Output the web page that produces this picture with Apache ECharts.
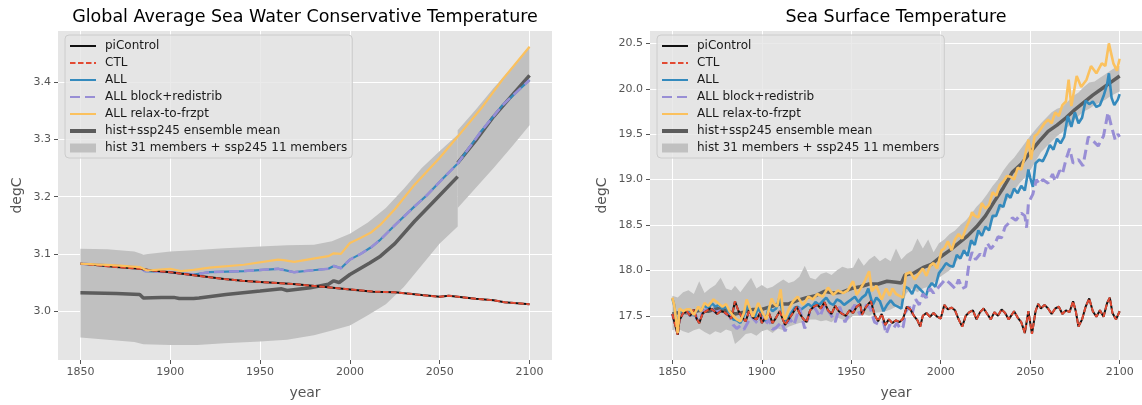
<!DOCTYPE html>
<html>
<head>
<meta charset="utf-8">
<script src="https://cdn.jsdelivr.net/npm/echarts@6/dist/echarts.min.js"></script>
<style>
  html, body { margin: 0; padding: 0; background: #fff; }
  #chart { width: 1142px; height: 405px; }
</style>
</head>
<body>
<div id="chart"></div>
<script>
// ---------- left panel: global average sea water conservative temperature ----------
const globPiControl = [[1850,3.083],[1860,3.080],[1870,3.077],[1883,3.074],[1890,3.071],[1900,3.068],[1910,3.064],
  [1920,3.060],[1930,3.056],[1940,3.053],[1950,3.051],[1960,3.049],[1970,3.047],[1985,3.0425],[2000,3.038],
  [2013,3.034],[2025,3.033],[2040,3.028],[2050,3.025],[2055,3.027],[2070,3.0215],[2080,3.019],[2086,3.0157],[2100,3.012]];
const globCtl = globPiControl; // CTL sits exactly on piControl
const globAll = [[1850,3.083],[1870,3.079],[1883,3.076],[1886,3.070],[1900,3.068],[1906,3.066],[1913,3.064],
  [1922,3.068],[1941,3.070],[1960,3.074],[1963,3.072],[1969,3.068],[1978,3.071],[1988,3.074],[1991,3.079],
  [1995,3.075],[2000,3.090],[2006,3.100],[2012,3.112],[2017,3.125],[2025,3.150],[2036,3.183],[2043,3.203],
  [2050,3.226],[2060,3.258],[2073,3.314],[2085,3.360],[2100,3.404]];
const globBlock = globAll; // block+redistrib overlaps ALL
const globRelax = [[1850,3.083],[1870,3.080],[1883,3.077],[1887,3.071],[1900,3.074],[1906,3.070],[1913,3.072],
  [1922,3.076],[1941,3.081],[1960,3.090],[1963,3.089],[1969,3.086],[1978,3.091],[1988,3.096],[1991,3.101],
  [1995,3.100],[2000,3.119],[2006,3.128],[2012,3.138],[2017,3.151],[2025,3.178],[2036,3.221],[2050,3.268],
  [2060,3.305],[2073,3.354],[2085,3.405],[2100,3.462]];
const globMeanHist = [[1850,3.032],[1870,3.031],[1883,3.029],[1885,3.023],[1895,3.024],[1902,3.024],[1905,3.022],
  [1913,3.022],[1916,3.023],[1931,3.029],[1950,3.035],[1962,3.039],[1965,3.036],[1978,3.041],[1988,3.047],
  [1991,3.053],[1994,3.050],[2000,3.064],[2011,3.084],[2017,3.096],[2025,3.118],[2036,3.157],[2048,3.196],[2060,3.235]];
const globMeanSsp = [[2060,3.259],[2070,3.298],[2080,3.340],[2090,3.376],[2100,3.412]];
const globBandHistYears = [1850,1865,1880,1885,1900,1915,1930,1950,1965,1980,1990,2000,2010,2020,2030,2040,2050,2060];
const globBandHistLow  = [2.954,2.950,2.946,2.942,2.941,2.941,2.944,2.947,2.950,2.958,2.966,2.975,2.993,3.012,3.042,3.080,3.118,3.148];
const globBandHistHigh = [3.109,3.108,3.104,3.099,3.104,3.107,3.110,3.113,3.115,3.116,3.122,3.135,3.155,3.180,3.214,3.250,3.280,3.308];
const globBandSspYears = [2060,2070,2080,2090,2100];
const globBandSspLow  = [3.180,3.215,3.250,3.287,3.325];
const globBandSspHigh = [3.316,3.352,3.390,3.425,3.463];

// ---------- right panel: sea surface temperature ----------
const sstPiControl = [[1850,17.52],[1851,17.50],[1853,17.29],[1854,17.45],[1856,17.53],[1858,17.55],[1860,17.50],
  [1862,17.57],[1863.5,17.47],[1865,17.42],[1867,17.53],[1869,17.55],[1871,17.58],[1873,17.56],[1875,17.52],
  [1877,17.55],[1879,17.54],[1881,17.51],[1883,17.47],[1885,17.66],[1887,17.55],[1889,17.48],[1891,17.44],
  [1893,17.56],[1895,17.48],[1897,17.46],[1899,17.53],[1900,17.42],[1902,17.48],[1904,17.53],[1906,17.42],
  [1908,17.48],[1910,17.55],[1912,17.45],[1913,17.40],[1915,17.46],[1917,17.52],[1919.5,17.60],[1921,17.53],
  [1923,17.47],[1925,17.43],[1927,17.56],[1929,17.60],[1931,17.62],[1933,17.58],[1935,17.65],[1937,17.56],
  [1939,17.52],[1941,17.61],[1943,17.55],[1945,17.52],[1947,17.50],[1949,17.56],[1951,17.53],[1953,17.60],
  [1955,17.63],[1956,17.51],[1958,17.59],[1959.5,17.63],[1961,17.66],[1963,17.51],[1965,17.44],[1967,17.52],
  [1969,17.40],[1971,17.46],[1973,17.42],[1975,17.45],[1977,17.43],[1979,17.47],[1981,17.60],[1983,17.57],
  [1985,17.50],[1987,17.45],[1988.5,17.38],[1990,17.50],[1992,17.53],[1994,17.49],[1996,17.53],[1998,17.49],
  [2000,17.47],[2002,17.62],[2004,17.57],[2006,17.59],[2008,17.56],[2010,17.46],[2012,17.38],[2014,17.50],
  [2016,17.54],[2018,17.56],[2020,17.46],[2022,17.54],[2024,17.58],[2026,17.52],[2028,17.46],[2030,17.54],
  [2032,17.50],[2034,17.57],[2036,17.53],[2038,17.46],[2041,17.55],[2043,17.48],[2045,17.43],[2047,17.31],
  [2049,17.55],[2051,17.30],[2053,17.55],[2054.5,17.63],[2056,17.58],[2058,17.62],[2060,17.58],[2062,17.52],
  [2064,17.58],[2066,17.60],[2068,17.52],[2070,17.56],[2072,17.54],[2074,17.66],[2075.5,17.55],[2077,17.38],
  [2079,17.46],[2081,17.60],[2083,17.69],[2085,17.55],[2087,17.49],[2089,17.56],[2091,17.49],[2093,17.64],
  [2094.5,17.70],[2096,17.53],[2098,17.46],[2100,17.55]];
const sstCtl = sstPiControl; // CTL is drawn over piControl
const sstAll = [[1850,17.69],[1851,17.62],[1853,17.33],[1854,17.55],[1856,17.54],[1858,17.56],[1860,17.55],
  [1862,17.50],[1864,17.58],[1866,17.56],[1868,17.62],[1870,17.57],[1872,17.64],[1874,17.60],[1876,17.62],
  [1878,17.58],[1880,17.60],[1882,17.53],[1884,17.46],[1886,17.45],[1888,17.42],[1890,17.50],[1892,17.62],
  [1894,17.53],[1896,17.48],[1898,17.60],[1900,17.50],[1902,17.44],[1904,17.60],[1906,17.55],[1908,17.58],
  [1910,17.71],[1912,17.47],[1914,17.44],[1916,17.52],[1918.5,17.59],[1920,17.60],[1922,17.57],[1924,17.60],
  [1926,17.63],[1928,17.60],[1930,17.65],[1932,17.62],[1934,17.66],[1936,17.70],[1938,17.64],[1940,17.62],
  [1942,17.68],[1944,17.66],[1946,17.62],[1948,17.65],[1950,17.68],[1952,17.71],[1954,17.65],[1956,17.70],
  [1958,17.73],[1959.5,17.80],[1962,17.62],[1964,17.70],[1966,17.66],[1968,17.55],[1970,17.62],[1972,17.67],
  [1974,17.62],[1976,17.60],[1978,17.58],[1980,17.82],[1982,17.80],[1984,17.74],[1986,17.84],[1988,17.80],
  [1990,17.76],[1991.5,17.70],[1993,17.80],[1995,17.86],[1997,17.82],[1999,17.97],[2001,18.02],[2003,18.08],
  [2005,18.05],[2007,18.04],[2009,18.17],[2011,18.13],[2013,18.22],[2015,18.16],[2017,18.33],[2019,18.28],
  [2021,18.44],[2023,18.38],[2025,18.48],[2027,18.44],[2029,18.60],[2031,18.60],[2033,18.72],[2035,18.70],
  [2037,18.84],[2039,18.80],[2041,18.90],[2043,18.85],[2045,18.93],[2047,18.88],[2049,19.11],[2050,19.02],
  [2051.5,18.92],[2053,19.18],[2055,19.22],[2057,19.20],[2059,19.28],[2061,19.38],[2063,19.33],[2065,19.45],
  [2067,19.40],[2069,19.47],[2071,19.70],[2073,19.58],[2075,19.74],[2077,19.62],[2079,19.68],[2081,19.87],
  [2083,19.83],[2085,19.86],[2087,19.80],[2089,19.82],[2091,19.92],[2093,20.05],[2094,20.17],[2095.5,19.90],
  [2097,19.82],[2099,19.88],[2100,19.94]];
const sstBlock = [[1850,17.52],[1851,17.50],[1853,17.31],[1854,17.47],[1856,17.53],[1858,17.55],[1860,17.50],
  [1862,17.57],[1864,17.45],[1866,17.50],[1868,17.56],[1870,17.57],[1872,17.58],[1874,17.54],[1876,17.55],
  [1878,17.56],[1880,17.52],[1882,17.50],[1884,17.40],[1886,17.36],[1888,17.39],[1890,17.35],[1892,17.42],
  [1894,17.50],[1896,17.45],[1898,17.41],[1900,17.49],[1902,17.40],[1904,17.46],[1906,17.35],[1908,17.37],
  [1911,17.43],[1913,17.33],[1915.5,17.47],[1918,17.40],[1921,17.59],[1924,17.36],[1927,17.55],[1929.5,17.59],
  [1932.5,17.49],[1935,17.62],[1938,17.53],[1941,17.43],[1943.5,17.60],[1946.5,17.43],[1949,17.53],[1952,17.62],
  [1955,17.51],[1957.5,17.62],[1960.5,17.59],[1963,17.43],[1966,17.40],[1968,17.43],[1969.5,17.30],[1971.5,17.40],
  [1973.5,17.36],[1975.5,17.42],[1977.5,17.35],[1979,17.38],[1980.5,17.55],[1982.5,17.60],[1984,17.52],
  [1986,17.68],[1988,17.62],[1990,17.74],[1992,17.70],[1994,17.80],[1996,17.75],[1999,17.82],[2002.5,17.90],
  [2005,17.86],[2008,17.80],[2010,17.90],[2012,17.80],[2014,17.82],[2016,18.10],[2017.5,18.20],[2019.5,18.12],
  [2022,18.18],[2024,18.14],[2026,18.30],[2028,18.24],[2030,18.28],[2032,18.37],[2034,18.36],[2036,18.48],
  [2038,18.52],[2040,18.58],[2042,18.55],[2045,18.63],[2047,18.60],[2048,18.47],[2049,18.74],[2051.5,18.84],
  [2053.5,19.00],[2055,18.95],[2057,19.00],[2060,18.96],[2062.5,19.06],[2064,18.98],[2066.5,19.10],[2068,19.06],
  [2070,19.22],[2072,19.34],[2074,19.18],[2077,19.22],[2079.5,19.15],[2082.5,19.47],[2085,19.43],[2088,19.37],
  [2091,19.48],[2093.5,19.74],[2095.5,19.58],[2097.5,19.44],[2099,19.50],[2100,19.47]];
const sstRelax = [[1850,17.70],[1851,17.62],[1853,17.31],[1854,17.58],[1856,17.55],[1858,17.57],[1860,17.57],
  [1862,17.51],[1864.5,17.60],[1866,17.55],[1868,17.64],[1870,17.61],[1873,17.68],[1875.5,17.64],[1878,17.60],
  [1880,17.63],[1882,17.55],[1884,17.50],[1886,17.46],[1888,17.44],[1890,17.53],[1891.5,17.68],[1893.5,17.57],
  [1895,17.49],[1898,17.64],[1900.5,17.53],[1902.5,17.46],[1905.5,17.69],[1907,17.63],[1908.5,17.60],
  [1910.5,17.79],[1912,17.51],[1913,17.46],[1915,17.57],[1917.5,17.66],[1920,17.71],[1923,17.62],[1926,17.71],
  [1928.5,17.68],[1931,17.74],[1934,17.71],[1937,17.81],[1940,17.73],[1942.5,17.78],[1945.5,17.75],[1948,17.78],
  [1951,17.88],[1953,17.73],[1955.5,17.81],[1957.5,17.88],[1960,17.99],[1961.5,17.77],[1964,17.83],[1967,17.68],
  [1969.5,17.80],[1971.5,17.72],[1973,17.80],[1975,17.74],[1977,17.72],[1979,17.70],[1980.5,17.96],[1983,17.98],
  [1985.5,17.90],[1988,17.97],[1990,18.02],[1992,17.94],[1994,18.05],[1996,18.08],[1998,18.02],[2000.5,18.22],
  [2002,18.24],[2004,18.32],[2006,18.22],[2008,18.34],[2010,18.40],[2012,18.35],[2014,18.46],[2016,18.55],
  [2017.5,18.64],[2019,18.60],[2021,18.58],[2023,18.74],[2025,18.68],[2027,18.72],[2029,18.86],[2031,18.82],
  [2033,18.94],[2035,18.98],[2037,19.04],[2039,19.03],[2041,19.00],[2043,19.13],[2045,19.11],[2047,19.25],
  [2049,19.44],[2050.5,19.22],[2052.5,19.48],[2054,19.50],[2056,19.56],[2058,19.62],[2060,19.66],[2062,19.62],
  [2064,19.74],[2066,19.70],[2068,19.82],[2070,19.86],[2071.5,20.10],[2073,19.81],[2076,20.14],[2078.5,20.02],
  [2081.5,20.10],[2084,20.25],[2087,20.17],[2090,20.28],[2092,20.25],[2094,20.50],[2096.5,20.28],[2098.5,20.20],
  [2100,20.33]];
const sstMean = [[1850,17.52],[1855,17.54],[1860,17.53],[1865,17.56],[1870,17.55],[1875,17.58],[1880,17.56],
  [1885,17.52],[1890,17.54],[1895,17.57],[1900,17.57],[1905,17.60],[1910,17.63],[1915,17.63],[1920,17.67],
  [1925,17.70],[1930,17.72],[1935,17.77],[1940,17.75],[1945,17.76],[1950,17.80],[1955,17.82],[1960,17.85],
  [1965,17.85],[1970,17.88],[1975,17.87],[1978,17.86],[1980,17.95],[1985,17.97],[1990,18.03],[1995,18.07],
  [2000,18.15],[2005,18.22],[2010,18.30],[2015,18.38],[2020,18.48],[2025,18.60],[2030,18.76],[2035,18.91],
  [2040,19.08],[2045,19.17],[2050,19.30],[2055,19.42],[2060,19.53],[2065,19.60],[2070,19.68],[2075,19.77],
  [2080,19.85],[2085,19.93],[2090,20.00],[2095,20.07],[2100,20.14]];
const sstBandYears = [1850,1853,1856,1859,1862,1865,1868,1871,1874,1877,1880,1883,1885,1888,1891,1894,1897,1900,
  1903,1906,1909,1912,1915,1918,1921,1924,1927,1930,1933,1936,1939,1942,1945,1948,1951,1954,1957,1960,1963,1966,
  1969,1972,1975,1978,1981,1984,1987,1990,1993,1996,1999,2002,2005,2008,2011,2014,2017,2020,2023,2026,2029,2032,
  2035,2038,2041,2044,2047,2050,2053,2056,2059,2062,2065,2068,2071,2074,2077,2080,2083,2086,2089,2092,2095,2098,2100];
const sstBandLow = [17.34,17.36,17.33,17.31,17.34,17.36,17.32,17.29,17.33,17.31,17.35,17.33,17.19,17.24,17.30,17.31,
  17.28,17.33,17.35,17.31,17.36,17.34,17.38,17.40,17.42,17.43,17.46,17.46,17.44,17.45,17.43,17.48,17.46,17.45,17.50,
  17.50,17.52,17.50,17.53,17.54,17.55,17.57,17.60,17.62,17.75,17.80,17.76,17.80,17.82,17.86,17.92,17.96,18.00,18.08,
  18.15,18.22,18.28,18.35,18.42,18.47,18.56,18.62,18.72,18.80,18.88,18.96,19.02,19.10,19.20,19.30,19.36,19.42,19.48,
  19.52,19.58,19.64,19.70,19.75,19.78,19.82,19.85,19.88,19.92,19.95,19.97];
const sstBandHigh = [17.72,17.70,17.76,17.78,17.74,17.88,17.75,17.80,17.84,17.92,17.80,17.78,17.83,17.76,17.84,17.92,
  17.80,17.84,17.80,17.82,17.86,17.90,17.86,17.88,17.93,18.05,17.92,17.90,17.96,17.98,17.95,18.00,18.04,18.02,18.03,
  18.14,18.05,18.12,18.16,18.10,18.14,18.10,18.24,18.12,18.18,18.22,18.35,18.24,18.34,18.20,18.30,18.34,18.40,18.44,
  18.50,18.55,18.62,18.70,18.76,18.84,18.93,19.00,19.10,19.18,19.24,19.32,19.40,19.48,19.55,19.62,19.68,19.74,19.78,
  19.80,19.86,19.92,19.96,20.02,20.07,20.08,20.12,20.16,20.20,20.24,20.25];

// ---------- ticks / labels ----------
const yearTicks = [1850, 1900, 1950, 2000, 2050, 2100];
const globTicks = [3.0, 3.1, 3.2, 3.3, 3.4];
const sstTicks = [17.5, 18.0, 18.5, 19.0, 19.5, 20.0, 20.5];
const legendNames = ['piControl', 'CTL', 'ALL', 'ALL block+redistrib', 'ALL relax-to-frzpt',
  'hist+ssp245 ensemble mean', 'hist 31 members + ssp245 11 members'];

const FONT = 'DejaVu Sans';
const BAND = '#c0c0c0';
const MEAN = '#5c5c5c';

const chart = echarts.init(document.getElementById('chart'));

function lineSeries(name, data, idx, color, width, dash) {
  return {
    name: name, type: 'line', data: data, xAxisIndex: idx, yAxisIndex: idx,
    symbol: 'none', showSymbol: false, silent: true, animation: false,
    lineStyle: { color: color, width: width, type: dash || 'solid' },
    itemStyle: { color: color }
  };
}

// whole band is drawn as one polygon from the first data item
function bandSeries(years, low, high, idx) {
  return {
    name: legendNames[6], type: 'custom', xAxisIndex: idx, yAxisIndex: idx,
    silent: true, animation: false,
    itemStyle: { color: BAND },
    encode: { x: 0, y: [1, 2] },
    data: years.map((y, i) => [y, low[i], high[i]]),
    renderItem: function (params, api) {
      if (params.dataIndexInside !== 0) return;
      const top = [], bottom = [];
      for (let i = 0; i < params.dataInsideLength; i++) {
        const x = api.value(0, i);
        top.push(api.coord([x, api.value(2, i)]));
        bottom.push(api.coord([x, api.value(1, i)]));
      }
      return {
        type: 'polygon',
        shape: { points: top.concat(bottom.reverse()) },
        style: { fill: BAND }
      };
    }
  };
}

function xAxis(idx) {
  return {
    type: 'value', gridIndex: idx, min: 1837.5, max: 2112.5,
    name: 'year', nameLocation: 'middle', nameGap: 26,
    nameTextStyle: { fontSize: 14, color: '#555', fontFamily: FONT },
    axisLine: { show: false },
    axisTick: { show: true, customValues: yearTicks, length: 4, lineStyle: { color: '#555' } },
    axisLabel: { customValues: yearTicks, fontSize: 11, color: '#555', margin: 7, fontFamily: FONT,
      formatter: v => String(v) },
    splitLine: { show: true, lineStyle: { color: '#fff', width: 1 } }
  };
}

function yAxis(idx, min, max, ticks, gap) {
  return {
    type: 'value', gridIndex: idx, min: min, max: max,
    name: 'degC', nameLocation: 'middle', nameGap: gap,
    nameTextStyle: { fontSize: 14, color: '#555', fontFamily: FONT },
    axisLine: { show: false },
    axisTick: { show: true, customValues: ticks, length: 4, lineStyle: { color: '#555' } },
    axisLabel: { customValues: ticks, fontSize: 11, color: '#555', margin: 7, fontFamily: FONT,
      formatter: v => v.toFixed(1) },
    splitLine: { show: true, lineStyle: { color: '#fff', width: 1 } }
  };
}

function legend(left) {
  return {
    left: left, top: 35, orient: 'vertical',
    itemWidth: 26, itemHeight: 9, itemGap: 5,
    padding: [5, 5, 4, 3],
    backgroundColor: 'rgba(229,229,229,0.8)', borderColor: '#cccccc', borderWidth: 1, borderRadius: 4,
    textStyle: { fontSize: 12, color: '#1a1a1a', fontFamily: FONT, padding: [0, 0, 0, 4] },
    itemStyle: { opacity: 0 },
    selectedMode: false,
    data: [
      { name: legendNames[0] },
      { name: legendNames[1] },
      { name: legendNames[2] },
      { name: legendNames[3] },
      { name: legendNames[4] },
      { name: legendNames[5], lineStyle: { width: 4 } },
      { name: legendNames[6], icon: 'rect', itemStyle: { opacity: 1, color: BAND } }
    ]
  };
}

// w: width of the solid model lines for this panel
function panelSeries(idx, d, w) {
  return [
    ...d.bands.map(b => bandSeries(b[0], b[1], b[2], idx)),
    ...d.mean.map(m => lineSeries(legendNames[5], m, idx, MEAN, 3.5)),
    lineSeries(legendNames[2], d.all, idx, '#348ABD', w),
    lineSeries(legendNames[3], d.block, idx, '#988ED5', w + 0.4, [10, 5]),
    lineSeries(legendNames[0], d.pi, idx, '#111111', 2),
    lineSeries(legendNames[1], d.ctl, idx, '#E24A33', 2, [5.5, 2.5]),
    lineSeries(legendNames[4], d.relax, idx, '#FBC15E', w)
  ];
}

const option = {
  animation: false,
  textStyle: { fontFamily: FONT },
  title: [
    { text: 'Global Average Sea Water Conservative Temperature', left: 305, top: 8, padding: 0, textAlign: 'center',
      textStyle: { fontSize: 17.5, fontWeight: 'normal', color: '#000', fontFamily: FONT } },
    { text: 'Sea Surface Temperature', left: 896, top: 8, padding: 0, textAlign: 'center',
      textStyle: { fontSize: 17.5, fontWeight: 'normal', color: '#000', fontFamily: FONT } }
  ],
  grid: [
    { left: 58, top: 31, width: 494, height: 330, show: true, backgroundColor: '#E5E5E5', borderWidth: 0 },
    { left: 650, top: 31, width: 492, height: 330, show: true, backgroundColor: '#E5E5E5', borderWidth: 0 }
  ],
  xAxis: [xAxis(0), xAxis(1)],
  yAxis: [yAxis(0, 2.9146, 3.4895, globTicks, 34), yAxis(1, 17.013, 20.636, sstTicks, 41)],
  legend: [legend(65), legend(657)],
  series: [
    ...panelSeries(0, {
      bands: [[globBandHistYears, globBandHistLow, globBandHistHigh], [globBandSspYears, globBandSspLow, globBandSspHigh]],
      mean: [globMeanHist, globMeanSsp],
      all: globAll, block: globBlock, pi: globPiControl, ctl: globCtl, relax: globRelax
    }, 2.2),
    ...panelSeries(1, {
      bands: [[sstBandYears, sstBandLow, sstBandHigh]],
      mean: [sstMean],
      all: sstAll, block: sstBlock, pi: sstPiControl, ctl: sstCtl, relax: sstRelax
    }, 2.6)
  ]
};

chart.setOption(option);
</script>
</body>
</html>
